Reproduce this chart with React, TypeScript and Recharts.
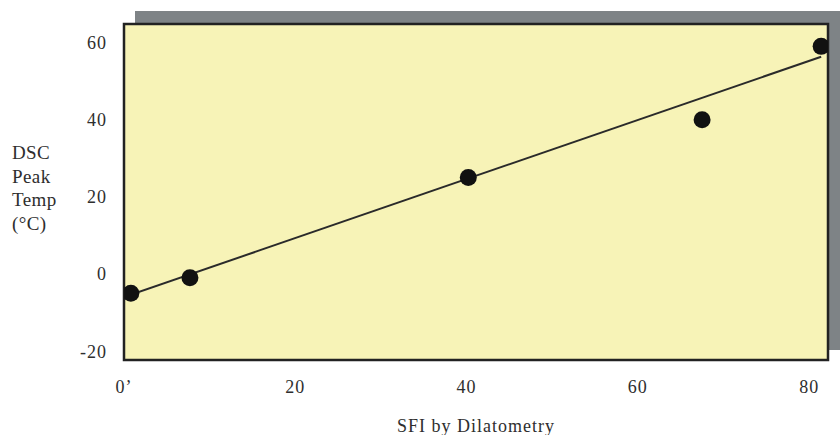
import { ComposedChart, Scatter, Line, XAxis, YAxis, CartesianGrid, ReferenceArea } from "recharts";

const sfi = [0.8, 7.7, 40.2, 67.5, 81.4];
const peakTemp = [-5, -1, 25, 40, 59];
const fitX = [0, 81.4];
const fitY = [-6, 56.3];
const xTicks = [0, 20, 40, 60, 80];
const yTicks = [-20, 0, 20, 40, 60];
const yTitle = ["DSC", "Peak", "Temp", "(°C)"];

const xDomain: [number, number] = [0, 82.2];
const yDomain: [number, number] = [-22.3, 64.8];

const points = sfi.map((x, i) => ({ x, y: peakTemp[i] }));
const fit = fitX.map((x, i) => ({ x, y: fitY[i] }));

const font = "'Liberation Serif', 'Times New Roman', serif";
const ink = "#2e2e2e";

function YTitle() {
  return (
    <text x={12} y={159} fill={ink} fontSize={19} letterSpacing={0.4} fontFamily={font}>
      {yTitle.map((t, i) => (
        <tspan key={t} x={12} dy={i === 0 ? 0 : 23.5}>{t}</tspan>
      ))}
    </text>
  );
}

export default function App() {
  return (
    <div style={{ position: "absolute", left: 0, top: 0, width: 840, height: 435, background: "#fff" }}>
      <div style={{ position: "absolute", left: 135, top: 11, width: 705, height: 339, background: "#7E8386" }} />
      <div style={{ position: "absolute", left: 0, top: 0 }}>
        <ComposedChart width={840} height={435} margin={{ top: 24, right: 12, bottom: 0, left: 0 }}>
          <CartesianGrid fill="#F7F3B7" horizontal={false} vertical={false} />
          <XAxis
            type="number"
            dataKey="x"
            domain={xDomain}
            ticks={xTicks}
            allowDataOverflow
            height={75}
            axisLine={false}
            tickLine={false}
            tickSize={0}
            tickMargin={20}
            tick={{ fill: ink, fontSize: 18, letterSpacing: 1, fontFamily: font }}
            tickFormatter={(v) => (v === 0 ? "0’" : String(v))}
            label={{ value: "SFI by Dilatometry", position: "insideBottom", offset: 3, fill: ink, fontSize: 18, letterSpacing: 1, fontFamily: font }}
          />
          <YAxis
            type="number"
            dataKey="y"
            domain={yDomain}
            ticks={yTicks}
            allowDataOverflow
            width={124}
            axisLine={false}
            tickLine={false}
            tickSize={0}
            tickMargin={17}
            tick={{ fill: ink, fontSize: 18, letterSpacing: 1, fontFamily: font }}
            label={YTitle}
          />
          <Line data={fit} dataKey="y" type="linear" stroke="#2a2a2a" strokeWidth={2} dot={false} activeDot={false} isAnimationActive={false} />
          <Scatter data={points} dataKey="y" fill="#111" shape={(p: any) => <circle cx={p.cx} cy={p.cy} r={8.5} fill="#111" />} isAnimationActive={false} />
          <ReferenceArea x1={xDomain[0]} x2={xDomain[1]} y1={yDomain[0]} y2={yDomain[1]} fill="none" stroke="#222" strokeWidth={2.5} ifOverflow="visible" />
        </ComposedChart>
      </div>
    </div>
  );
}
